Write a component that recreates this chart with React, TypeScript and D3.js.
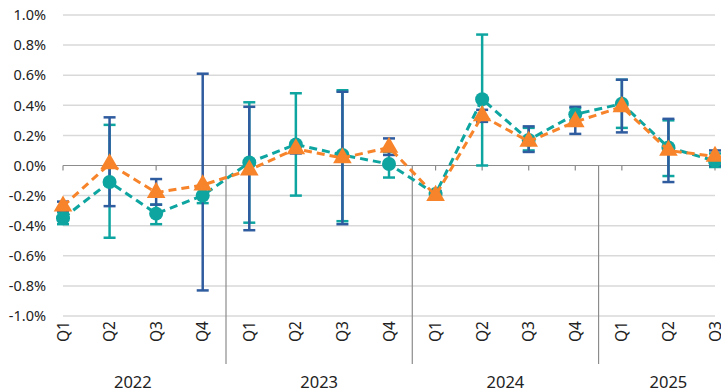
import * as d3 from 'd3';

const years = ['2022', '2023', '2024', '2025'];
const quarters = ['Q1', 'Q2', 'Q3', 'Q4', 'Q1', 'Q2', 'Q3', 'Q4', 'Q1', 'Q2', 'Q3', 'Q4', 'Q1', 'Q2', 'Q3'];
const yearOf = [0, 0, 0, 0, 1, 1, 1, 1, 2, 2, 2, 2, 3, 3, 3];

// teal series (circles) with its error range
const teal = [-0.35, -0.11, -0.32, -0.2, 0.02, 0.14, 0.07, 0.01, -0.19, 0.44, 0.17, 0.34, 0.41, 0.12, 0.03];
const tealHigh = [-0.31, 0.27, -0.26, -0.15, 0.42, 0.48, 0.5, 0.09, -0.17, 0.87, 0.25, 0.38, 0.57, 0.3, 0.08];
const tealLow = [-0.39, -0.48, -0.39, -0.25, -0.38, -0.2, -0.37, -0.08, -0.21, 0.0, 0.1, 0.3, 0.25, -0.07, -0.01];

// orange series (triangles) with its error range (drawn blue)
const orange = [-0.27, 0.01, -0.18, -0.13, -0.03, 0.11, 0.05, 0.12, -0.2, 0.33, 0.16, 0.29, 0.39, 0.1, 0.06];
const orangeHigh = [-0.24, 0.32, -0.09, 0.61, 0.39, 0.14, 0.49, 0.18, -0.17, 0.37, 0.26, 0.39, 0.57, 0.31, 0.1];
const orangeLow = [-0.3, -0.27, -0.26, -0.83, -0.43, 0.08, -0.39, 0.07, -0.22, 0.29, 0.09, 0.21, 0.22, -0.11, 0.0];

const yTicks = [1.0, 0.8, 0.6, 0.4, 0.2, 0.0, -0.2, -0.4, -0.6, -0.8, -1.0];

const W = 721;
const H = 392;
const TEAL = '#0ea5a1';
const ORANGE = '#f7842a';
const BLUE = '#2f5b9f';
const FONT = '"Noto Sans", "Open Sans", sans-serif';

export default function App() {
  const x = d3.scalePoint<number>().domain(d3.range(quarters.length)).range([63, 715]);
  const y = d3.scaleLinear().domain([-1, 1]).range([316, 15]);
  const step = x.step();

  const line = d3
    .line<number>()
    .x((_, i) => x(i)!)
    .y((d) => y(d));

  const tri = d3.symbol().type(d3.symbolTriangle).size(150)()!;

  const errBars = (hi: number[], lo: number[], color: string, key: string) =>
    hi.map((h, i) => (
      <g key={key + i} stroke={color} strokeWidth={2.5}>
        <line x1={x(i)} x2={x(i)} y1={y(h)} y2={y(lo[i])} />
        <line x1={x(i)! - 6} x2={x(i)! + 6} y1={y(h)} y2={y(h)} />
        <line x1={x(i)! - 6} x2={x(i)! + 6} y1={y(lo[i])} y2={y(lo[i])} />
      </g>
    ));

  // group boundaries for the year axis
  const groups = years.map((yr, g) => {
    const idx = yearOf.map((v, i) => (v === g ? i : -1)).filter((i) => i >= 0);
    const left = x(idx[0])! - step / 2;
    const right = x(idx[idx.length - 1])! + step / 2;
    return { yr, left, right };
  });

  return (
    <svg width={W} height={H} style={{ position: 'absolute', left: 0, top: 0 }} fontFamily={FONT}>
      {/* gridlines */}
      {yTicks.map((t) => (
        <g key={t}>
          {t !== 0 && (
            <line x1={63} x2={715} y1={y(t)} y2={y(t)} stroke="#d9d9d9" strokeWidth={1.5} />
          )}
          <text x={46} y={y(t)} dy="0.36em" textAnchor="end" fontSize={14.5} fill="#222">
            {`${t.toFixed(1)}%`}
          </text>
        </g>
      ))}

      {/* zero axis with ticks */}
      <line x1={63} x2={715} y1={y(0)} y2={y(0)} stroke="#8c8c8c" strokeWidth={1.2} />
      {quarters.map((_, i) => (
        <line key={'t' + i} x1={x(i)} x2={x(i)} y1={y(0)} y2={y(0) + 5} stroke="#8c8c8c" strokeWidth={1.2} />
      ))}

      {/* group dividers */}
      {groups.slice(1).map((g) => (
        <line key={'d' + g.yr} x1={g.left} x2={g.left} y1={y(0)} y2={364} stroke="#8c8c8c" strokeWidth={1.2} />
      ))}

      {/* error bars */}
      {errBars(tealHigh, tealLow, TEAL, 'te')}
      {errBars(orangeHigh, orangeLow, BLUE, 'oe')}

      {/* teal series */}
      <path d={line(teal)!} fill="none" stroke={TEAL} strokeWidth={3} strokeDasharray="8 5" />
      {teal.map((v, i) => (
        <circle key={'c' + i} cx={x(i)} cy={y(v)} r={7} fill={TEAL} />
      ))}

      {/* orange series */}
      <path d={line(orange)!} fill="none" stroke={ORANGE} strokeWidth={3} strokeDasharray="8 5" />
      {orange.map((v, i) => (
        <path key={'o' + i} d={tri} transform={`translate(${x(i)},${y(v)})`} fill={ORANGE} />
      ))}

      {/* quarter labels */}
      {quarters.map((q, i) => (
        <text
          key={'q' + i}
          transform={`translate(${x(i)! + 5.5},321) rotate(-90)`}
          textAnchor="end"
          fontSize={15.5}
          fill="#222"
        >
          {q}
        </text>
      ))}

      {/* year labels */}
      {groups.map((g) => (
        <text key={'y' + g.yr} x={(g.left + g.right) / 2} y={388} textAnchor="middle" fontSize={16.5} fill="#222">
          {g.yr}
        </text>
      ))}
    </svg>
  );
}
